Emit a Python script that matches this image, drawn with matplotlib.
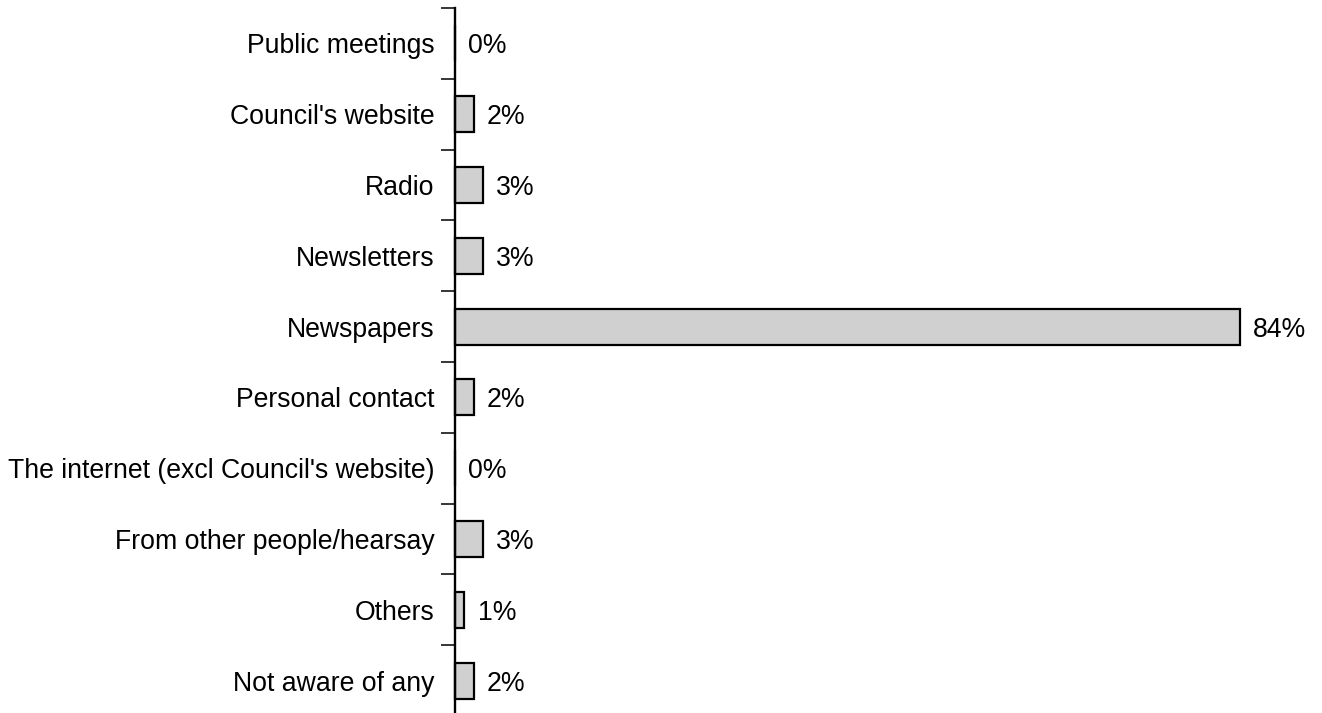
import matplotlib
matplotlib.use("Agg")
import matplotlib.pyplot as plt
import numpy as np

categories = [
    "Public meetings",
    "Council's website",
    "Radio",
    "Newsletters",
    "Newspapers",
    "Personal contact",
    "The internet (excl Council's website)",
    "From other people/hearsay",
    "Others",
    "Not aware of any",
]
values = [0, 2, 3, 3, 84, 2, 0, 3, 1, 2]

plt.rcParams["font.family"] = ["Liberation Sans", "DejaVu Sans"]

fig = plt.figure(figsize=(13.22, 7.13), dpi=100)
ax = fig.add_axes([455 / 1322, 1 - 716 / 713, (1240 - 455) / 1322, (716 - 8) / 713])

y = np.arange(len(categories))
bars = ax.barh(y, values, height=0.51, color="#d0d0d0", edgecolor="black", linewidth=1.6)
for b in bars:
    b.set_clip_on(False)

for yi, v in zip(y, values):
    ax.annotate(f"{v}%", xy=(v, yi), xytext=(9.5, 0), textcoords="offset points",
                ha="left", va="center_baseline", fontsize=19.2)

ax.set_xlim(0, 84)
ax.set_ylim(len(categories) - 0.5, -0.5)

for s in ["top", "right", "bottom"]:
    ax.spines[s].set_visible(False)
ax.spines["left"].set_linewidth(1.7)
ax.spines["left"].set_clip_on(False)
ax.set_xticks([])

# boundary ticks (major) and centered labels (minor)
ax.set_yticks(np.arange(-0.5, len(categories), 1.0))
ax.set_yticklabels([])
ax.set_yticks(y, minor=True)
ax.set_yticklabels(categories, minor=True, fontsize=19.2)
for lbl in ax.get_yticklabels(minor=True):
    lbl.set_verticalalignment("center_baseline")
ax.tick_params(axis="y", which="major", length=10, width=1.1, direction="out")
ax.tick_params(axis="y", which="minor", length=0, pad=14.5)

fig.savefig("out.png", dpi=100)
